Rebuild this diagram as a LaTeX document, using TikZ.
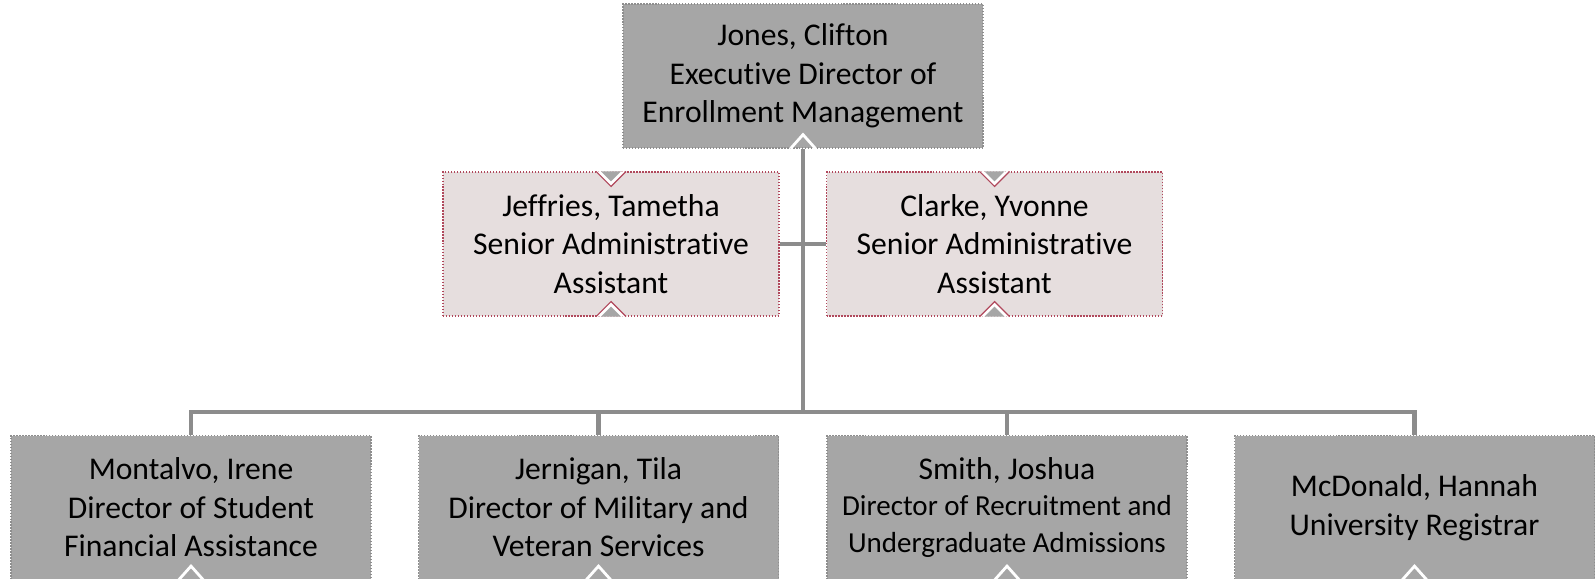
\documentclass[tikz,border=0pt]{standalone}
\usepackage{fontspec}
\setmainfont{Carlito}[Ligatures=NoCommon]

\definecolor{boxgray}{HTML}{A6A6A6}
\definecolor{boxedge}{HTML}{8E8E8E}
\definecolor{assistfill}{HTML}{E6DEDE}
\definecolor{assistedge}{HTML}{B0485C}
\definecolor{linegray}{HTML}{8C8C8C}

\begin{document}
\begin{tikzpicture}

\tikzset{headbox/.style={rectangle, fill=boxgray, draw=boxedge, densely dotted, line width=0.7pt, minimum width=7.2cm, minimum height=2.88cm, align=center, text=black, inner sep=0pt, font=\fontsize{18}{21.9}\selectfont}}
\tikzset{assistbox/.style={headbox, fill=assistfill, draw=assistedge, minimum width=6.72cm}}
\tikzset{orgline/.style={draw=linegray, line width=2.3pt}}
\tikzset{notchline/.style={draw=white, line width=1.6pt}}

\useasboundingbox (0,0) rectangle (31.9,-11.58);

% boxes
\node[headbox] (jones) at (16.06,-1.52) {Jones, Clifton\\Executive Director of\\Enrollment Management};
\node[assistbox] (jeffries) at (12.22,-4.88) {Jeffries, Tametha\\Senior Administrative\\Assistant};
\node[assistbox] (clarke) at (19.89,-4.88) {Clarke, Yvonne\\Senior Administrative\\Assistant};
\node[headbox] (montalvo) at (3.82,-10.15) {Montalvo, Irene\\Director of Student\\Financial Assistance};
\node[headbox] (jernigan) at (11.97,-10.15) {Jernigan, Tila\\Director of Military and\\Veteran Services};
\node[headbox] (smith) at (20.14,-10.15) {Smith, Joshua\\[-1.2pt]{\fontsize{16.5}{20.2}\selectfont Director of Recruitment and}\\[-1.2pt]{\fontsize{16.5}{20.2}\selectfont Undergraduate Admissions}};
\node[headbox] (mcdonald) at (28.29,-10.15) {McDonald, Hannah\\University Registrar};

% connectors
\coordinate (bus) at (16.06,-8.24);
\draw[orgline] (jones.south) -- (bus);
\draw[orgline] (jeffries.east) -- (jeffries.east -| jones.south);
\draw[orgline] (clarke.west) -- (clarke.west -| jones.south);
\draw[orgline] (montalvo.north) |- (bus) -| (mcdonald.north);
\draw[orgline] (jernigan.north) -- (jernigan.north |- bus);
\draw[orgline] (smith.north) -- (smith.north |- bus);

% notches
\draw[notchline] ([xshift=-0.25cm]jones.south) -- ([yshift=0.28cm]jones.south) -- ([xshift=0.25cm]jones.south);
\draw[notchline] ([xshift=-0.25cm]montalvo.south) -- ([yshift=0.28cm]montalvo.south) -- ([xshift=0.25cm]montalvo.south);
\draw[notchline] ([xshift=-0.25cm]jernigan.south) -- ([yshift=0.28cm]jernigan.south) -- ([xshift=0.25cm]jernigan.south);
\draw[notchline] ([xshift=-0.25cm]smith.south) -- ([yshift=0.28cm]smith.south) -- ([xshift=0.25cm]smith.south);
\draw[notchline] ([xshift=-0.25cm]mcdonald.south) -- ([yshift=0.28cm]mcdonald.south) -- ([xshift=0.25cm]mcdonald.south);

\filldraw[fill=white, draw=assistedge, line width=0.7pt] ([xshift=-0.3cm]jeffries.north) -- ([yshift=-0.3cm]jeffries.north) -- ([xshift=0.3cm]jeffries.north);
\fill[boxgray] ([xshift=-0.2cm]jeffries.north) -- ([yshift=-0.2cm]jeffries.north) -- ([xshift=0.2cm]jeffries.north) -- cycle;
\filldraw[fill=white, draw=assistedge, line width=0.7pt] ([xshift=-0.3cm]jeffries.south) -- ([yshift=0.3cm]jeffries.south) -- ([xshift=0.3cm]jeffries.south);
\fill[boxgray] ([xshift=-0.2cm]jeffries.south) -- ([yshift=0.2cm]jeffries.south) -- ([xshift=0.2cm]jeffries.south) -- cycle;
\filldraw[fill=white, draw=assistedge, line width=0.7pt] ([xshift=-0.3cm]clarke.north) -- ([yshift=-0.3cm]clarke.north) -- ([xshift=0.3cm]clarke.north);
\fill[boxgray] ([xshift=-0.2cm]clarke.north) -- ([yshift=-0.2cm]clarke.north) -- ([xshift=0.2cm]clarke.north) -- cycle;
\filldraw[fill=white, draw=assistedge, line width=0.7pt] ([xshift=-0.3cm]clarke.south) -- ([yshift=0.3cm]clarke.south) -- ([xshift=0.3cm]clarke.south);
\fill[boxgray] ([xshift=-0.2cm]clarke.south) -- ([yshift=0.2cm]clarke.south) -- ([xshift=0.2cm]clarke.south) -- cycle;

\end{tikzpicture}
\end{document}
